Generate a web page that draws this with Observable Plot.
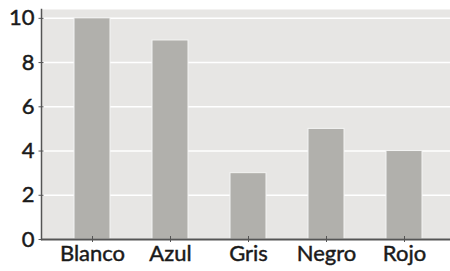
<!DOCTYPE html>
<html>
<head>
<meta charset="utf-8">
<script src="https://cdn.jsdelivr.net/npm/d3@7"></script>
<script src="https://cdn.jsdelivr.net/npm/@observablehq/plot@0.6"></script>
<style>
  html, body { margin: 0; padding: 0; background: white; }
  svg text { stroke: #1a1a1a; stroke-width: 0.45px; paint-order: stroke; }
</style>
</head>
<body>
<div id="chart"></div>
<script>
const categories = ["Blanco", "Azul", "Gris", "Negro", "Rojo"];
const values = [10, 9, 3, 5, 4];
const yTicks = [0, 2, 4, 6, 8, 10];

const data = categories.map((c, i) => ({cat: c, val: values[i]}));

const chart = Plot.plot({
  width: 450,
  height: 271,
  marginLeft: 41,
  marginRight: 0,
  marginTop: 9,
  marginBottom: 32,
  style: {fontFamily: "Lato", fontSize: "22px", color: "#1a1a1a", background: "white"},
  x: {domain: categories, paddingInner: 0.54, paddingOuter: 0.39, align: 0.54, label: null},
  y: {domain: [0, 10.4], label: null},
  marks: [
    Plot.frame({fill: "#e7e6e4", stroke: null}),
    Plot.gridY(yTicks, {stroke: "white", strokeOpacity: 1, strokeWidth: 1.5}),
    Plot.barY(data, {x: "cat", y: "val", fill: "#b1b0ac", stroke: "#f4f4f3", strokeWidth: 1}),
    // tick marks crossing the axis lines
    Plot.axisY(yTicks, {tickSize: 5, dx: 2.5, tickFormat: () => "", stroke: "#555", label: null}),
    Plot.axisX({tickSize: 6, dy: -3, tickFormat: () => "", stroke: "#555", label: null}),
    // labels
    Plot.axisY(yTicks, {tickSize: 0, tickPadding: 7, fill: "#1a1a1a", fontSize: 22, label: null}),
    Plot.axisX({tickSize: 0, tickPadding: 6, fill: "#1a1a1a", fontSize: 22, label: null}),
    Plot.frame({anchor: "left", stroke: "#555", strokeWidth: 1.5}),
    Plot.ruleY([0], {stroke: "#555", strokeWidth: 2})
  ]
});
document.getElementById("chart").appendChild(chart);
</script>
</body>
</html>
